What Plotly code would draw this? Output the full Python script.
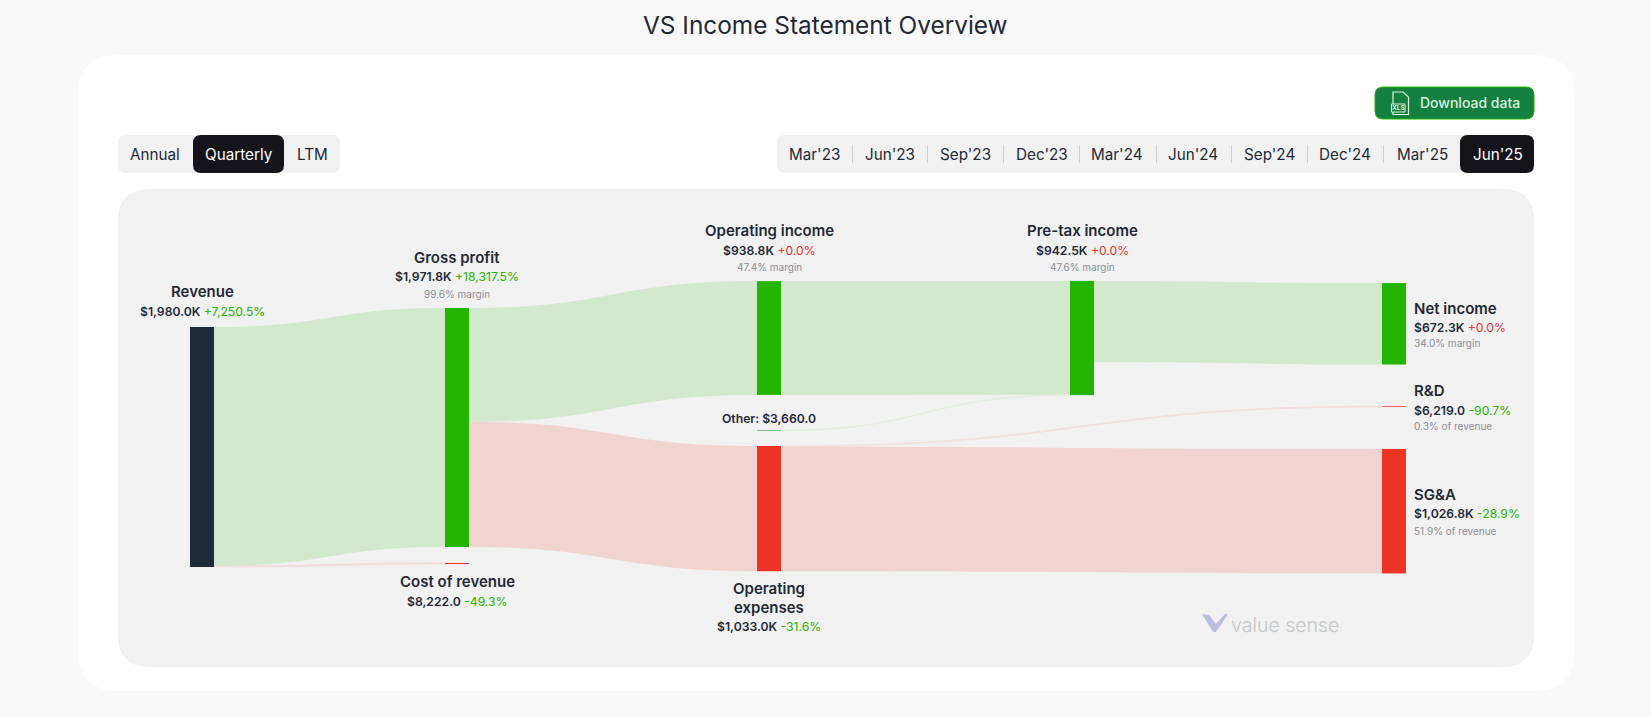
import plotly.graph_objects as go

W, H = 1651, 717

# ---------- data ----------
node_names = ["Revenue", "Gross profit", "Cost of revenue", "Operating income", "Other",
              "Operating expenses", "Pre-tax income", "Net income", "R&D", "SG&A"]
link_sources = [0, 0, 1, 1, 3, 4, 5, 5, 6]
link_targets = [1, 2, 3, 5, 6, 6, 8, 9, 7]
link_values = [1971.8, 8.222, 938.8, 1033.0, 938.8, 3.66, 6.219, 1026.8, 672.3]
periods = ["Mar'23", "Jun'23", "Sep'23", "Dec'23", "Mar'24", "Jun'24", "Sep'24", "Dec'24", "Mar'25", "Jun'25"]
view_tabs = ["Annual", "Quarterly", "LTM"]

# ---------- palette ----------
DARK = "#1F2937"; GREEN = "#24B500"; RED = "#EE3424"; GREY = "#8B8F98"
L_GREEN = "#D3E9CD"; L_RED = "#F1D4D1"; PANEL = "#F1F1F2"; BLACK = "#14141A"
BTN = "#13803F"; ICON = "#DCEFE2"

node_colors = [DARK, GREEN, RED, GREEN, "#009800", RED, GREEN, GREEN, RED, RED]
link_colors = [L_GREEN, "#F0DDDB", L_GREEN, L_RED, L_GREEN, "#E3EDDF", "#F0E0DE", L_RED, L_GREEN]

# sankey frame: value scale is fixed by the domain height
KY = 240.0 / 1980.0
SK_TOP = 327.0
SK_H = KY * (1980.02 + 3.66)
node_cx = [202, 457, 457, 769, 769, 769, 1082, 1394, 1394, 1394]
node_cy = [447, 427.5, 563.5, 338, 430.5, 508.6, 338, 323.8, 406.5, 511.2]

fig = go.Figure(go.Sankey(
    arrangement="fixed",
    domain=dict(x=[0, 1], y=[1 - (SK_TOP + SK_H) / H, 1 - SK_TOP / H]),
    node=dict(pad=0, thickness=24, line=dict(width=0), color=node_colors,
              label=[""] * len(node_names), customdata=node_names,
              x=[c / W for c in node_cx], y=[(c - SK_TOP) / SK_H for c in node_cy],
              hoverinfo="none"),
    link=dict(source=link_sources, target=link_targets, value=link_values,
              color=link_colors, hoverinfo="none"),
))

def px(x): return x / W
def py(y): return 1 - y / H

shapes, annos = [], []

def rrect(x0, y0, x1, y1, r, fill, line=None, lw=0, layer="below"):
    X0, X1, Y0, Y1 = px(x0), px(x1), py(y0), py(y1)
    rx, ry = r / W, r / H
    p = (f"M{X0+rx},{Y0} L{X1-rx},{Y0} Q{X1},{Y0} {X1},{Y0-ry} L{X1},{Y1+ry} Q{X1},{Y1} {X1-rx},{Y1} "
         f"L{X0+rx},{Y1} Q{X0},{Y1} {X0},{Y1+ry} L{X0},{Y0-ry} Q{X0},{Y0} {X0+rx},{Y0} Z")
    shapes.append(dict(type="path", xref="paper", yref="paper", path=p, fillcolor=fill,
                       line=dict(width=lw, color=line or fill), layer=layer))

def poly(points, fill, line=None, lw=0):
    p = "M" + " L".join(f"{px(a)},{py(b)}" for a, b in points) + " Z"
    shapes.append(dict(type="path", xref="paper", yref="paper", path=p, fillcolor=fill,
                       line=dict(width=lw, color=line or fill), layer="above"))

def text(x, y, s, size=12.2, color=DARK, anchor="center", weight=400, family="Inter"):
    annos.append(dict(x=px(x), y=py(y - 1), xref="paper", yref="paper", text=s, showarrow=False,
                      xanchor=anchor, yanchor="middle", align=anchor if anchor != "center" else "center",
                      font=dict(size=size, color=color, family=family, weight=weight),
                      borderpad=0, borderwidth=0))

NAME = 15; SMALL = 10

def value_line(x, y, val, pct, col, anchor="center"):
    text(x, y, f'<span style="font-weight:600">{val}</span> <span style="color:{col}">{pct}</span>', 12.2, DARK, anchor)

# chrome
rrect(78, 55, 1574, 691, 40, "#FFFFFF")
rrect(118, 189, 1534, 667, 32, PANEL)

text(826, 26, "VS Income Statement Overview", 24.4, DARK, weight=400)

# view tabs
rrect(118, 135, 340, 173, 8, PANEL)
rrect(193, 135, 284, 173, 8, BLACK)
for lab, cx, col in zip(view_tabs, [155, 238.7, 312], [DARK, "#FFFFFF", DARK]):
    text(cx, 155, lab, 15.25, col)

# period tabs
rrect(777, 135, 1534, 173, 8, PANEL)
rrect(1460, 135, 1534, 173, 8, BLACK)
for lab, cx in zip(periods, [814, 890, 965, 1041.5, 1117, 1193, 1269, 1345, 1422, 1497.5]):
    text(cx, 155, lab, 15.25, "#FFFFFF" if lab == "Jun'25" else DARK)
for sx in [852.5, 927.5, 1003.5, 1079.5, 1156.5, 1231.5, 1307.5, 1383.5]:
    shapes.append(dict(type="line", xref="paper", yref="paper", x0=px(sx), x1=px(sx), y0=py(145), y1=py(163),
                       line=dict(color="#CFCFD2", width=1), layer="below"))

# download button
rrect(1375, 87, 1534, 119, 8, BTN, "#24B500", 1)
poly([(1393, 92), (1403, 92), (1408.5, 97), (1408.5, 114.5), (1393, 114.5)], BTN, ICON, 1.2)
poly([(1391.5, 104), (1405, 104), (1405, 112), (1391.5, 112)], BTN, ICON, 1)
text(1398.3, 109, "XLS", 6.5, ICON, weight=700)
text(1470, 104, "Download data", 14, "#DCEFE2", weight=500)

# node labels
text(202, 292, "Revenue", NAME, weight=600)
value_line(202, 312, "$1,980.0K", "+7,250.5%", GREEN)

text(457, 258, "Gross profit", NAME, weight=600)
value_line(457, 278, "$1,971.8K", "+18,317.5%", GREEN)
text(457, 295, "99.6% margin", SMALL, GREY)

text(457, 582, "Cost of revenue", NAME, weight=600)
value_line(457, 602, "$8,222.0", "-49.3%", GREEN)

text(769, 231.5, "Operating income", NAME, weight=600)
value_line(769, 251, "$938.8K", "+0.0%", RED)
text(769, 268, "47.4% margin", SMALL, GREY)

text(769, 419, "Other: $3,660.0", 12.2, weight=600)

text(769, 589, "Operating", NAME, weight=600)
text(769, 608, "expenses", NAME, weight=600)
value_line(769, 627, "$1,033.0K", "-31.6%", GREEN)

text(1082, 231.5, "Pre-tax income", NAME, weight=600)
value_line(1082, 251, "$942.5K", "+0.0%", RED)
text(1082, 268, "47.6% margin", SMALL, GREY)

text(1414, 309, "Net income", NAME, anchor="left", weight=600)
value_line(1414, 328, "$672.3K", "+0.0%", RED, "left")
text(1414, 344, "34.0% margin", SMALL, GREY, "left")

text(1414, 391, "R&D", NAME, anchor="left", weight=600)
value_line(1414, 411, "$6,219.0", "-90.7%", GREEN, "left")
text(1414, 427, "0.3% of revenue", SMALL, GREY, "left")

text(1414, 495, "SG&A", NAME, anchor="left", weight=600)
value_line(1414, 514, "$1,026.8K", "-28.9%", GREEN, "left")
text(1414, 532, "51.9% of revenue", SMALL, GREY, "left")

# watermark
poly([(1202, 614), (1209, 615), (1216, 624), (1225, 614), (1228, 614), (1216, 632), (1213, 632)], "#B9BEE3")
text(1231, 626, "value sense", 19.5, "#C6C7C9", "left", weight=300)

fig.update_layout(
    width=W, height=H, margin=dict(l=0, r=0, t=0, b=0, pad=0),
    paper_bgcolor="#F8F9F8", plot_bgcolor="#F8F9F8",
    font=dict(family="Inter", color=DARK),
    shapes=shapes, annotations=annos, showlegend=False,
)

fig.write_html("out.html", config=dict(displayModeBar=False),
               post_script="document.body.style.margin='0';document.body.style.overflow='hidden';")
